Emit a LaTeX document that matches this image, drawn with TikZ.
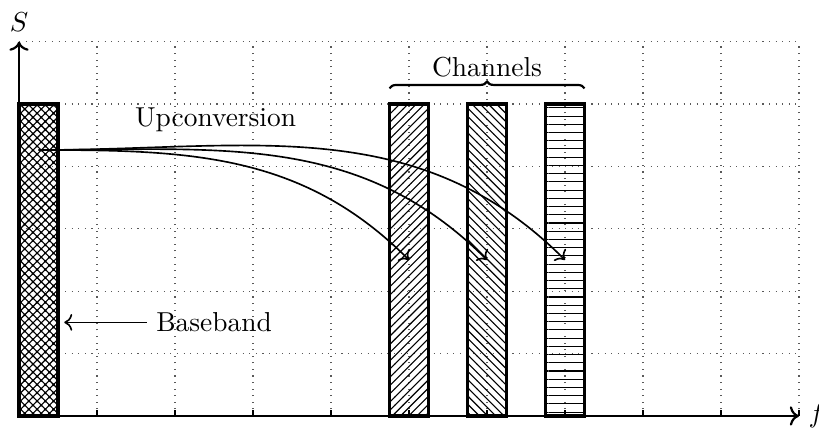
\documentclass[tikz,border=0pt]{standalone}
\usetikzlibrary{patterns,decorations.pathreplacing,arrows.meta}
\tikzset{
  gridline/.style={dotted, black!65, line width=0.4pt},
  axisline/.style={thick, ->},
  barbox/.style={very thick, draw=black},
  conn/.style={semithick, ->},
  lbl/.style={font=\normalsize},
}
\begin{document}
\begin{tikzpicture}
\useasboundingbox (-0.244,-0.179) rectangle (10.256,5.333);
% grid
\draw[gridline, xstep=1, ystep=0.8] (0,0) grid (10,4.8);
% bars
\fill[pattern=crosshatch] (0,0) rectangle (0.5,4);
\draw[barbox, pattern=crosshatch dots] (0,0) rectangle (0.5,4);
\draw[barbox, pattern=north east lines] (4.75,0) rectangle (5.25,4);
\draw[barbox, pattern=north west lines] (5.75,0) rectangle (6.25,4);
\draw[barbox, pattern=horizontal lines] (6.75,0) rectangle (7.25,4);
% axes
\coordinate (O) at (0,0);
\coordinate (ytop) at (0,4.8);
\coordinate (xend) at (10,0);
\draw[axisline] (O) -- (ytop);
\draw[axisline] (O) -- (xend);
\node[above] (S) at (ytop) {$S$};
\node[right] (F) at (xend) {$f$};
% ticks
\foreach \i in {1,...,10} \draw[thick] (\i,0) -- (\i,0.08);
% brace
\coordinate (bl) at (4.75,4.2);
\coordinate (br) at (7.25,4.2);
\draw[thick, decorate, decoration={brace, amplitude=2.5pt}] (bl) -- (br);
\node[lbl] (chan) at (6,4.47) {Channels};
% upconversion
\node[lbl] (up) at (2.52,3.8) {Upconversion};
\coordinate (src) at (0.25,3.41);
\coordinate (c1) at (5,2);
\coordinate (c2) at (6,2);
\coordinate (c3) at (7,2);
\draw[conn] (src) to[out=0, in=135] (c1);
\draw[conn] (src) to[out=0, in=135] (c2);
\draw[conn] (src) to[out=0, in=135] (c3);
% baseband
\node[lbl] (base) at (2.5,1.2) {Baseband};
\coordinate (bbp) at (0.58,1.2);
\draw[conn] (base.west) -- (bbp);
\end{tikzpicture}
\end{document}
